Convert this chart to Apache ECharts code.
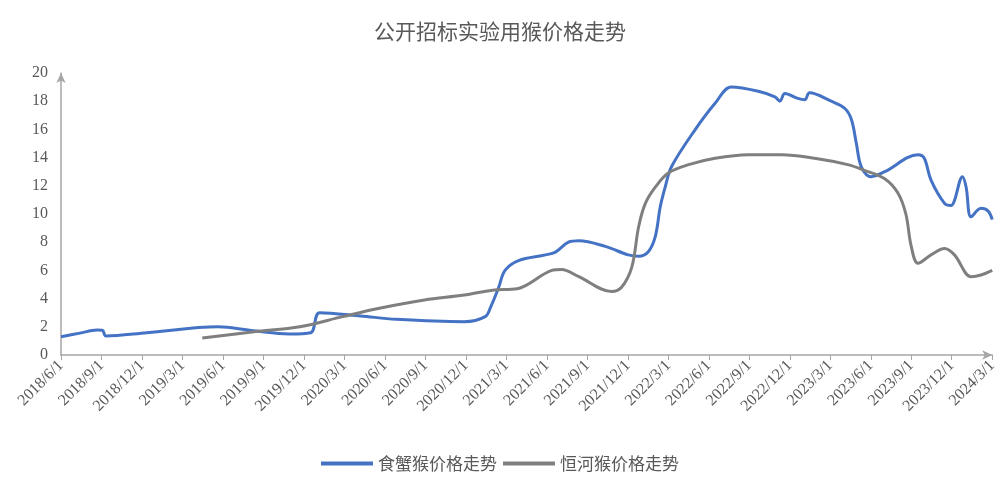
<!DOCTYPE html>
<html>
<head>
<meta charset="utf-8">
<script src="https://cdn.jsdelivr.net/npm/echarts@6/dist/echarts.min.js"></script>
<style>html,body{margin:0;padding:0;background:#fff}#c{width:1000px;height:485px}</style>
</head>
<body>
<div id="c"></div>
<script>
const titleText = '公开招标实验用猴价格走势';
const seriesNames = ['食蟹猴价格走势', '恒河猴价格走势'];
const tickLabels = ['2018/6/1','2018/9/1','2018/12/1','2019/3/1','2019/6/1','2019/9/1','2019/12/1','2020/3/1','2020/6/1','2020/9/1','2020/12/1','2021/3/1','2021/6/1','2021/9/1','2021/12/1','2022/3/1','2022/6/1','2022/9/1','2022/12/1','2023/3/1','2023/6/1','2023/9/1','2023/12/1','2024/3/1'];

const crabDates = ['2018-06-01','2018-07-13','2018-08-21','2018-09-03','2018-09-11','2018-12-12','2019-05-20','2019-08-09','2019-10-28','2019-12-16','2020-01-06','2020-04-07','2020-06-26','2020-11-27','2021-01-14','2021-01-26','2021-02-14','2021-02-28','2021-03-28','2021-05-28','2021-06-20','2021-07-19','2021-08-12','2021-10-11','2021-12-02','2021-12-25','2022-01-16','2022-02-02','2022-02-13','2022-02-24','2022-03-08','2022-04-30','2022-06-15','2022-07-21','2022-09-21','2022-10-28','2022-11-09','2022-11-20','2022-12-19','2023-01-04','2023-01-15','2023-03-03','2023-04-03','2023-04-18','2023-04-29','2023-05-10','2023-06-02','2023-07-02','2023-09-16','2023-09-30','2023-10-15','2023-11-15','2023-11-29','2023-12-25','2024-01-03','2024-01-14','2024-02-06','2024-02-22','2024-03-01'];
const crabValues = [1.3,1.55,1.77,1.75,1.35,1.58,2.0,1.72,1.49,1.58,3.0,2.77,2.53,2.36,2.72,3.4,4.8,6.0,6.7,7.1,7.3,8.0,8.1,7.7,7.1,7.0,7.3,8.4,10.5,11.9,13.35,15.95,17.85,19.0,18.7,18.3,18.0,18.55,18.2,18.1,18.6,18.0,17.5,16.7,15.0,13.35,12.65,13.0,14.2,13.95,12.4,10.75,10.6,12.65,11.9,9.8,10.4,10.2,9.6];

const rhesusDates = ['2019-04-15','2019-08-10','2019-11-22','2020-02-27','2020-05-16','2020-08-29','2020-11-27','2021-01-30','2021-03-25','2021-06-12','2021-07-04','2021-08-12','2021-10-25','2021-11-17','2021-12-10','2021-12-25','2022-01-10','2022-02-02','2022-03-01','2022-04-16','2022-06-15','2022-08-28','2022-11-13','2023-01-26','2023-04-10','2023-05-17','2023-07-02','2023-08-01','2023-08-19','2023-09-01','2023-09-16','2023-10-15','2023-11-15','2023-12-07','2024-01-14','2024-02-06','2024-03-01'];
const rhesusValues = [1.2,1.65,2.0,2.72,3.3,3.9,4.25,4.6,4.7,6.0,6.07,5.55,4.5,4.8,6.25,9.1,10.75,11.9,12.9,13.5,13.95,14.2,14.2,13.95,13.5,13.1,12.5,11.5,10.0,7.7,6.5,7.1,7.55,7.1,5.55,5.67,6.0];

// months since 2018-06-01
function monthOffset(s) {
  const [y, m, d] = s.split('-').map(Number);
  return (y - 2018) * 12 + (m - 6) + (d - 1) / 30;
}
function toPairs(dates, vals) { return dates.map((d, i) => [monthOffset(d), vals[i]]); }

const labelFont = { color: '#595959', fontFamily: 'Liberation Serif', fontSize: 16 };
const chart = echarts.init(document.getElementById('c'), null, { renderer: 'canvas' });
chart.setOption({
  animation: false,
  backgroundColor: '#fff',
  title: {
    text: titleText, left: 'center', top: 16,
    textStyle: { color: '#595959', fontFamily: 'Noto Sans CJK SC', fontSize: 21, fontWeight: 'normal' }
  },
  legend: {
    bottom: 8, left: 'center', itemWidth: 52, itemHeight: 4, itemGap: 6, icon: 'rect',
    textStyle: { color: '#595959', fontFamily: 'Noto Sans CJK SC', fontSize: 17 },
    data: seriesNames
  },
  grid: { left: 61, right: 5, top: 73, bottom: 130, containLabel: false },
  xAxis: {
    type: 'value', min: 0, max: 69, interval: 3,
    axisLine: { show: true, lineStyle: { color: '#A6A6A6', width: 1.5 }, symbol: ['none', 'arrow'], symbolSize: [7, 10] },
    axisTick: { show: true, length: 5, lineStyle: { color: '#A6A6A6' } },
    splitLine: { show: false },
    axisLabel: Object.assign({ rotate: 45, margin: 8, showMaxLabel: true, formatter: v => tickLabels[Math.round(v / 3)] || '' }, labelFont)
  },
  yAxis: {
    type: 'value', min: 0, max: 20, interval: 2,
    axisLine: { show: true, lineStyle: { color: '#A6A6A6', width: 1.5 }, symbol: ['none', 'arrow'], symbolSize: [7, 10] },
    axisTick: { show: false },
    splitLine: { show: false },
    axisLabel: Object.assign({ margin: 13 }, labelFont)
  },
  series: [
    { name: seriesNames[0], type: 'line', data: toPairs(crabDates, crabValues), smooth: 0.35, showSymbol: false, symbol: 'none',
      lineStyle: { color: '#4472C4', width: 3 }, itemStyle: { color: '#4472C4' } },
    { name: seriesNames[1], type: 'line', data: toPairs(rhesusDates, rhesusValues), smooth: 0.35, showSymbol: false, symbol: 'none',
      lineStyle: { color: '#7F7F7F', width: 3 }, itemStyle: { color: '#7F7F7F' } }
  ]
});
</script>
</body>
</html>
